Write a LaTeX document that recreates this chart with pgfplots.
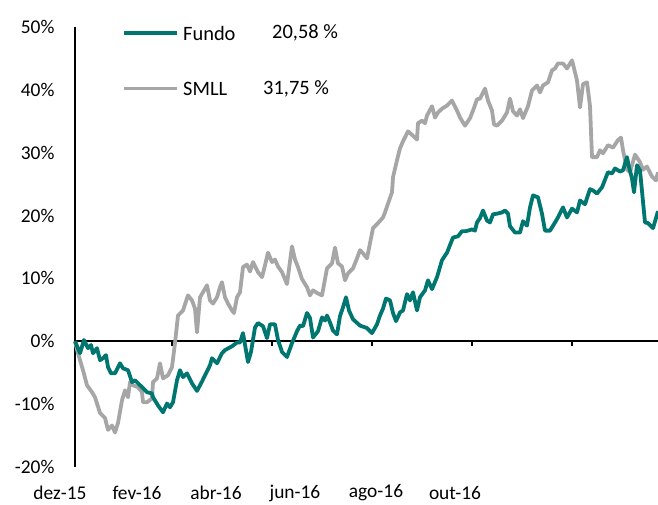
\documentclass[border=0pt]{standalone}
\usepackage{pgfplots}
\pgfplotsset{compat=1.18}
\usepackage{fontspec}
\setmainfont{Carlito}
\definecolor{fundo}{RGB}{0,118,112}
\definecolor{smll}{RGB}{166,166,166}
\begin{document}
\begin{tikzpicture}
\begin{axis}[
  scale only axis, width=583bp, height=440bp,
  xmin=75, xmax=658, ymin=-20, ymax=50,
  clip=false,
  axis x line=middle, axis y line=left,
  axis line style={-, line width=1.6bp, black},
  xtick={172,272,372,472,572}, xticklabels={},
  x tick style={black, line width=1.2bp}, tick align=outside,
  major tick length=5bp,
  ytick={-20,-10,0,10,20,30,40,50},
  yticklabels={-20\%,-10\%,0\%,10\%,20\%,30\%,40\%,50\%},
  y tick style={draw=none},
  yticklabel style={font=\fontsize{19.5}{23}\selectfont, anchor=east, xshift=-12bp},
  /pgf/number format/assume math mode=true,
]
\addplot[smll, line width=3.8bp, line join=round] coordinates {
(75,0)(78,-1.9)(83,-4.6)(87,-7.0)(92,-8.1)(95,-8.9)(100,-11.4)(105,-12.2)(108,-14.1)(112,-13.4)
(115,-14.5)(118,-13.0)(122,-9.4)(125,-7.8)(128,-8.9)(130,-6.5)(133,-7.0)(138,-7.3)(142,-8.1)(143,-9.7)
(147,-9.7)(152,-9.1)(153,-6.5)(157,-5.9)(160,-3.5)(163,-5.9)(168,-5.4)(172,-4.1)(175,-0.3)(178,4.1)
(183,4.9)(188,7.3)(192,6.5)(195,5.2)(197,1.4)(200,7.0)(203,7.8)(207,8.9)(210,6.5)(213,6.0)
(217,7.0)(220,8.6)(222,9.4)(225,7.0)(228,6.0)(232,4.9)(234,4.5)(237,7.0)(240,7.8)(243,11.8)
(247,12.2)(250,11.1)(253,12.6)(258,11.0)(262,10.2)(265,12.1)(268,14.1)(272,12.6)(275,13.0)(278,11.9)
(282,11.0)(287,9.1)(292,15.1)(295,13.0)(298,11.8)(302,9.9)(307,8.6)(310,7.3)(313,8.1)(318,7.6)
(322,7.3)(327,11.6)(332,12.4)(335,14.9)(338,12.4)(342,11.9)(345,9.7)(348,10.8)(353,11.6)(357,13.2)
(360,14.5)(363,14.0)(367,13.2)(370,15.6)(373,18.0)(378,18.8)(383,19.7)(385,20.5)(388,21.9)(392,23.7)
(393,26.1)(397,28.8)(400,30.7)(403,31.8)(408,33.4)(413,32.7)(417,32.1)(418,34.7)(422,35.1)(425,34.7)
(427,35.9)(432,37.4)(435,35.6)(438,36.4)(442,37.0)(447,37.5)(452,38.3)(457,36.7)(460,35.6)(465,34.3)
(470,35.5)(473,36.7)(477,38.5)(480,38.6)(485,40.2)(488,38.3)(492,36.7)(494,34.5)(497,34.3)(502,35.1)
(507,36.4)(510,38.6)(513,36.6)(517,35.9)(520,36.9)(523,35.5)(528,37.4)(532,39.9)(537,40.7)(540,39.6)
(543,40.7)(548,41.2)(552,43.1)(555,43.4)(558,44.2)(563,44.2)(567,43.4)(572,44.7)(577,41.5)(580,37.2)
(583,40.9)(587,41.2)(590,37.4)(592,29.3)(597,29.3)(600,30.4)(603,29.9)(608,31.2)(613,30.8)(618,32.0)
(621,32.4)(623,30.4)(627,27.3)(630,26.9)(635,29.7)(640,28.5)(643,27.3)(647,27.8)(652,26.2)(656,25.6)
(658,26.9)
};
\addplot[fundo, line width=3.8bp, line join=round] coordinates {
(75,0)(80,-1.9)(84,0.2)(88,-1.1)(91,-0.6)(93,-1.9)(97,-1.1)(100,-3.0)(103,-2.7)(106,-2.2)
(108,-4.1)(111,-5.1)(115,-5.1)(120,-3.5)(123,-4.3)(128,-4.6)(132,-6.5)(135,-6.2)(142,-7.3)(147,-8.1)
(152,-8.3)(153,-8.9)(158,-10.2)(163,-11.3)(167,-9.9)(170,-10.5)(173,-9.7)(177,-6.2)(180,-4.6)(183,-5.7)
(187,-5.1)(192,-6.7)(197,-7.9)(202,-6.4)(207,-4.8)(210,-3.8)(212,-2.7)(217,-3.5)(222,-1.9)(225,-1.4)
(232,-0.8)(237,-0.2)(240,-0.2)(243,1.3)(248,-3.3)(251,-1.7)(255,2.2)(258,2.9)(263,2.4)(267,0.5)
(270,2.7)(275,2.7)(278,0.2)(282,-1.7)(287,-2.5)(292,-0.3)(297,1.6)(300,2.5)(303,2.4)(307,4.5)
(310,3.7)(313,0.6)(318,1.6)(322,3.8)(325,3.3)(327,4.1)(330,3.0)(333,1.7)(337,1.1)(340,4.0)
(343,5.4)(346,7.0)(349,4.9)(353,3.5)(360,2.5)(367,2.1)(372,1.3)(377,2.7)(380,4.1)(383,5.2)
(386,6.8)(390,6.5)(393,4.5)(396,3.2)(400,4.6)(403,4.9)(407,7.5)(410,6.5)(413,7.8)(417,4.9)
(420,7.0)(425,8.1)(428,9.7)(432,8.3)(437,10.2)(442,12.9)(447,14.1)(450,15.3)(453,16.5)(458,16.7)
(462,17.5)(465,17.5)(468,17.6)(472,17.8)(475,17.6)(477,18.9)(480,19.6)(483,20.8)(487,19.2)(490,18.9)
(493,20.2)(497,20.3)(502,20.5)(505,20.8)(508,20.3)(510,18.3)(515,17.3)(520,17.3)(523,19.1)(527,18.4)
(530,21.3)(533,23.2)(538,22.9)(542,20.3)(545,17.6)(550,17.6)(555,18.9)(558,19.7)(563,21.3)(567,19.7)
(572,21.1)(577,20.5)(580,22.4)(585,21.8)(590,24.2)(593,24.0)(597,23.5)(602,24.5)(608,26.9)(612,26.7)
(615,27.5)(620,27.0)(623,27.2)(627,29.3)(629,27.7)(632,25.9)(634,23.7)(637,28.0)(640,27.2)(645,18.9)
(648,18.8)(653,18.0)(656,19.6)(658,20.7)
};
% legend
\draw[fundo, line width=3.8bp] (axis cs:124,49.0) -- (axis cs:177,49.0);
\draw[smll, line width=3.8bp] (axis cs:124,40.2) -- (axis cs:177,40.2);
\node[anchor=west, inner sep=0pt, font=\fontsize{20.5}{24}\selectfont] at (axis cs:183,49.0) {Fundo};
\node[anchor=west, inner sep=0pt, font=\fontsize{20.5}{24}\selectfont] at (axis cs:272,49.0) {20,58 \%};
\node[anchor=west, inner sep=0pt, font=\fontsize{20.5}{24}\selectfont] at (axis cs:183,40.2) {SMLL};
\node[anchor=west, inner sep=0pt, font=\fontsize{20.5}{24}\selectfont] at (axis cs:263,40.2) {31,75 \%};
% date labels
\node[font=\fontsize{19.5}{23}\selectfont, inner sep=0pt, yshift=-26bp] at (axis cs:60,-20) {dez-15};
\node[font=\fontsize{19.5}{23}\selectfont, inner sep=0pt, yshift=-26bp] at (axis cs:137,-20) {fev-16};
\node[font=\fontsize{19.5}{23}\selectfont, inner sep=0pt, yshift=-26bp] at (axis cs:216,-20) {abr-16};
\node[font=\fontsize{19.5}{23}\selectfont, inner sep=0pt, yshift=-26bp] at (axis cs:295,-20) {jun-16};
\node[font=\fontsize{19.5}{23}\selectfont, inner sep=0pt, yshift=-26bp] at (axis cs:376,-20) {ago-16};
\node[font=\fontsize{19.5}{23}\selectfont, inner sep=0pt, yshift=-26bp] at (axis cs:455,-20) {out-16};
\end{axis}
\pgfresetboundingbox
\path ([xshift=-75bp,yshift=-38bp]current axis.south west) rectangle ([yshift=27bp]current axis.north east);
\end{tikzpicture}
\end{document}
